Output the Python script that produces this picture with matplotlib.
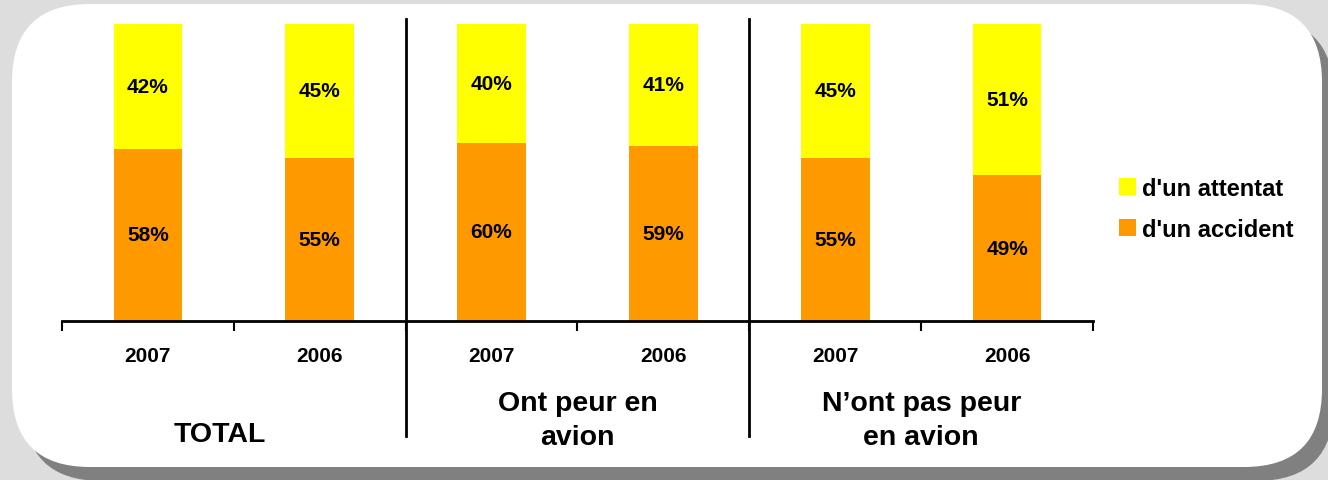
import matplotlib
matplotlib.use("Agg")
import matplotlib.pyplot as plt
from matplotlib.patches import FancyBboxPatch, Patch

plt.rcParams['font.family'] = ['Liberation Sans', 'DejaVu Sans']

years = ["2007", "2006", "2007", "2006", "2007", "2006"]
groups = ["TOTAL", "Ont peur en\navion", "N\u2019ont pas peur\nen avion"]
accident = [58, 55, 60, 59, 55, 49]
attentat = [42, 45, 40, 41, 45, 51]
series_names = ["d'un attentat", "d'un accident"]

c_acc = "#FF9900"
c_att = "#FFFF00"

W, H = 1328, 481
fig = plt.figure(figsize=(W / 100, H / 100), dpi=100)
fig.patch.set_facecolor("#DDDDDD")

# background panel with shadow
bg = fig.add_axes([0, 0, 1, 1])
bg.set_xlim(0, W)
bg.set_ylim(H, 0)
bg.axis("off")
bg.set_zorder(0)
shadow = FancyBboxPatch((24, 19), 1310, 463, boxstyle="round,pad=0,rounding_size=78",
                        facecolor="#808080", edgecolor="none")
panel = FancyBboxPatch((12, 5), 1310, 463, boxstyle="round,pad=0,rounding_size=78",
                       facecolor="white", edgecolor="none")
bg.add_patch(shadow)
bg.add_patch(panel)

# main axes
x0, x1 = 62, 1093
ytop, ybot = 25, 322
ax = fig.add_axes([x0 / W, 1 - ybot / H, (x1 - x0) / W, (ybot - ytop) / H])
ax.set_zorder(1)
ax.patch.set_alpha(0)

xs = list(range(len(years)))
bw = 0.4
ax.bar(xs, accident, width=bw, color=c_acc, zorder=2)
ax.bar(xs, attentat, width=bw, bottom=accident, color=c_att, zorder=2)

for x, a, t in zip(xs, accident, attentat):
    ax.text(x, a / 2, f"{a}%", ha="center", va="center", fontsize=15, fontweight="bold")
    ax.text(x, a + t / 2, f"{t}%", ha="center", va="center", fontsize=15, fontweight="bold")

ax.set_xlim(-0.5, len(years) - 0.5)
ax.set_ylim(0, 100)
for s in ["top", "right", "left"]:
    ax.spines[s].set_visible(False)
ax.spines["bottom"].set_linewidth(2)
ax.spines["bottom"].set_zorder(3)
ax.set_yticks([])
ax.set_xticks([i - 0.5 for i in range(len(years) + 1)])
ax.set_xticklabels([])
ax.tick_params(axis="x", which="major", length=7, width=1.5, direction="out")
ax.set_xticks(xs, minor=True)
ax.set_xticklabels(years, minor=True, fontsize=15, fontweight="bold")
ax.tick_params(axis="x", which="minor", length=0, pad=18)

# group separators
tr = ax.get_xaxis_transform()
for sx in [1.5, 3.5]:
    ax.plot([sx, sx], [(ybot - 20) / (ybot - ytop), (ybot - 437) / (ybot - ytop)],
            color="black", lw=2, transform=tr, clip_on=False, zorder=3)

# group labels
ax.text(0.42, (ybot - 435) / (ybot - ytop), groups[0], transform=tr, ha="center", va="center",
        fontsize=20.5, fontweight="bold")
for gx, g in zip([2.5, 4.5], groups[1:]):
    ax.text(gx, (ybot - 421) / (ybot - ytop), g, transform=tr, ha="center", va="center",
            fontsize=20.5, fontweight="bold", linespacing=1.4)

handles = [Patch(facecolor=c_att, edgecolor="none"), Patch(facecolor=c_acc, edgecolor="none")]
fig.legend(handles, series_names, loc="center left",
           bbox_to_anchor=(1119 / W, 1 - 210 / H), bbox_transform=fig.transFigure,
           frameon=False, borderpad=0, borderaxespad=0, handlelength=0.72, handleheight=0.72,
           handletextpad=0.25, labelspacing=0.75, prop={"weight": "bold", "size": 17})

fig.savefig("out.png", dpi=100, facecolor=fig.get_facecolor())
